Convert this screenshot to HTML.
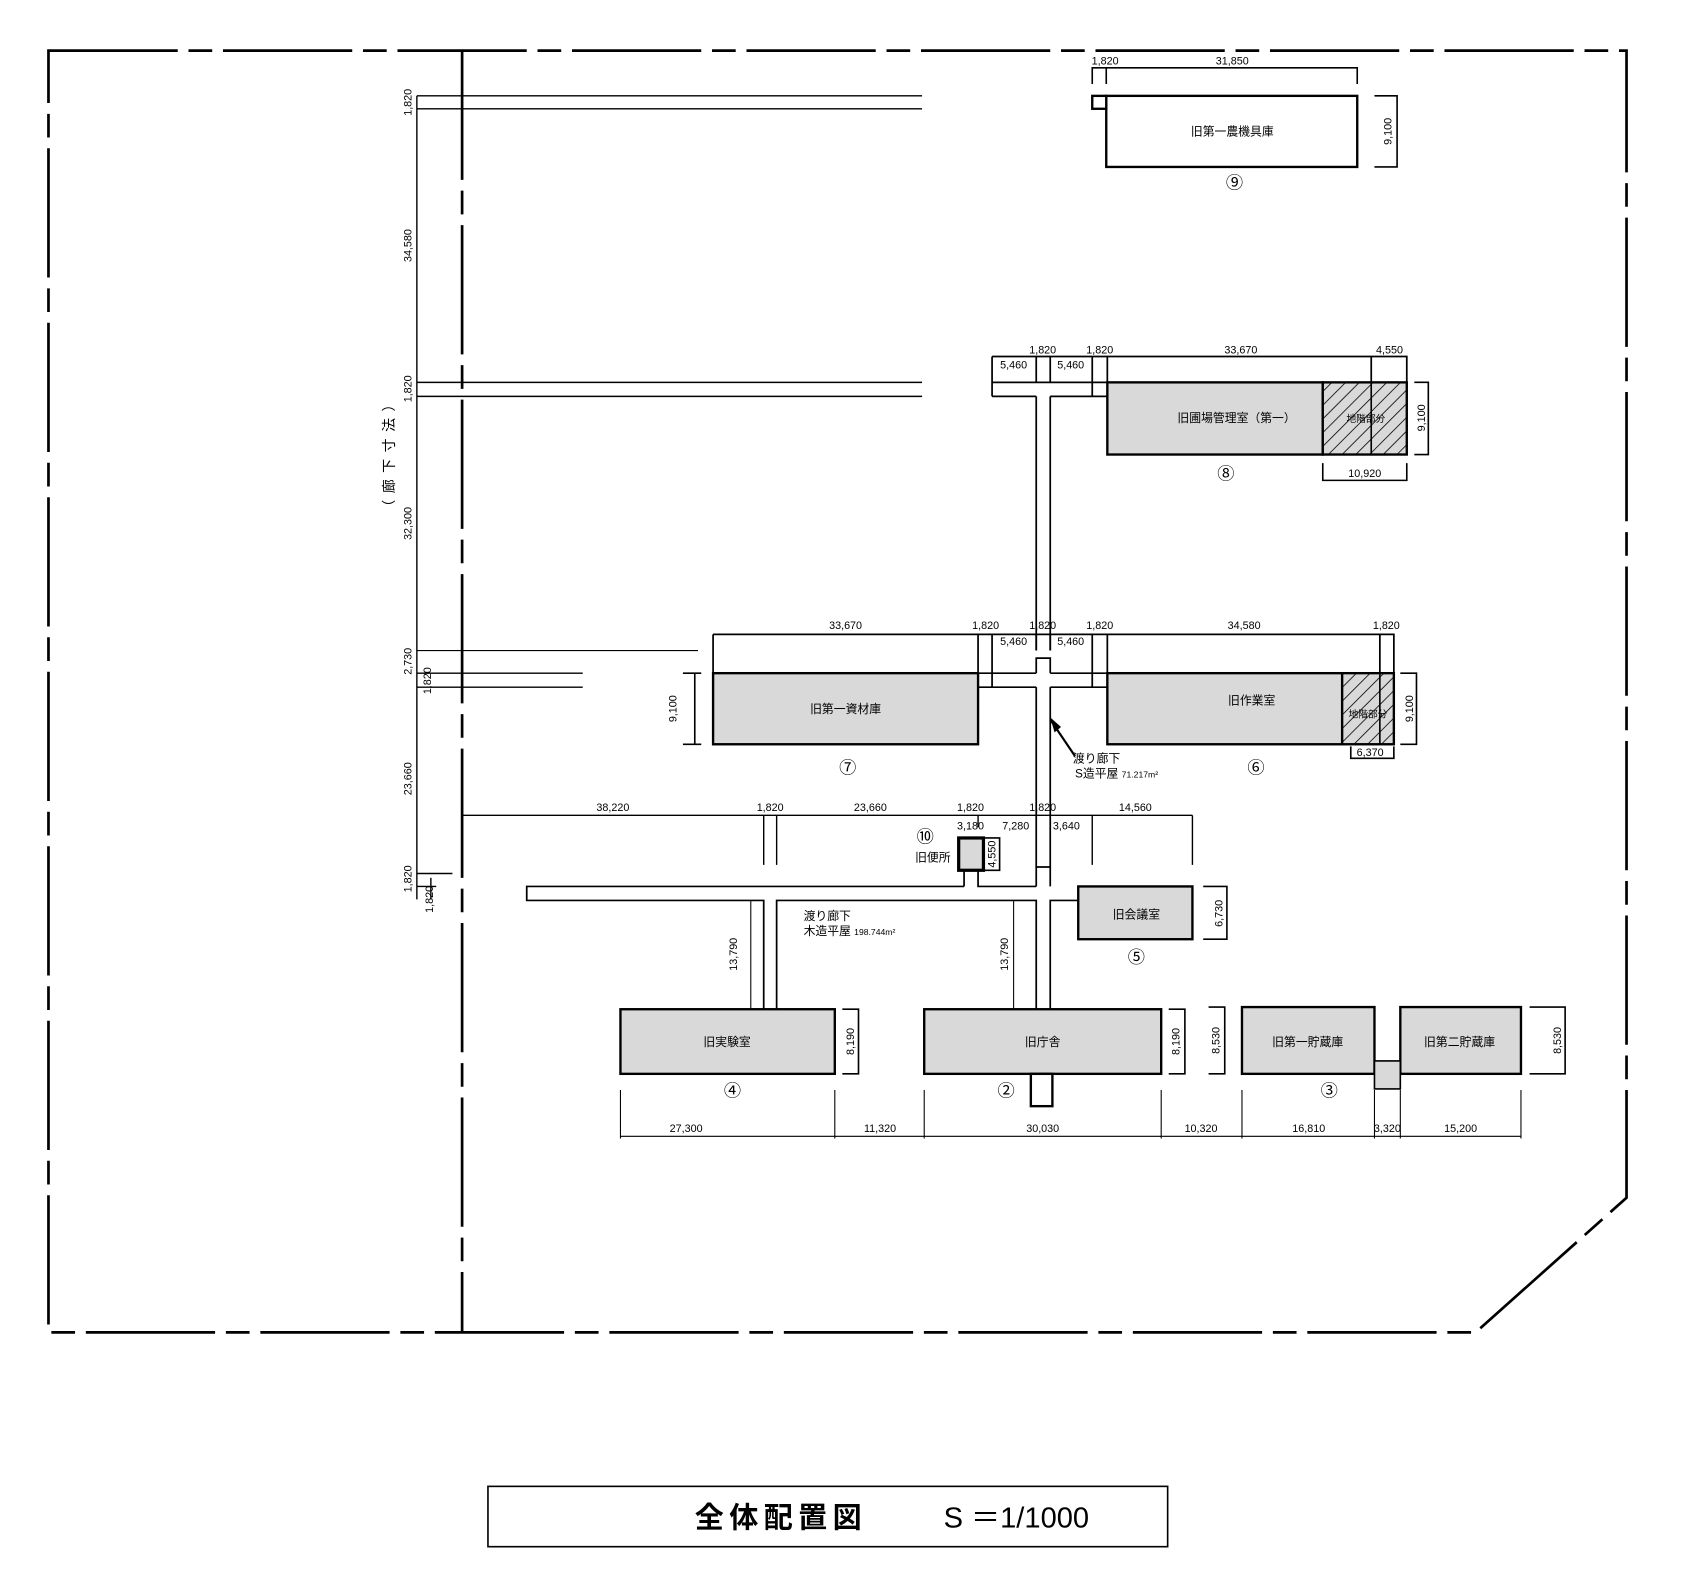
<!DOCTYPE html>
<html><head><meta charset="utf-8"><style>
html,body{margin:0;padding:0;background:#fff}
svg{display:block}
text{font-family:"Liberation Sans","Noto Sans CJK JP",sans-serif;fill:#000}
.d{font-size:10px}
.l{font-size:11px}
.c{font-size:16px}
</style></head><body>
<svg width="1689" height="1593" viewBox="0 0 1568 1479" preserveAspectRatio="none" xmlns="http://www.w3.org/2000/svg">
<defs>
<pattern id="h" width="9" height="9" patternUnits="userSpaceOnUse" patternTransform="rotate(45)">
<rect width="9" height="9" fill="#d9d9d9"/><line x1="0" y1="0" x2="0" y2="9" stroke="#000" stroke-width="1.5"/>
</pattern>
</defs>
<g fill="none" stroke="#000">
<path d="M45,47 H1510 V1112 L1370,1237 H45 Z" stroke-width="2.5" stroke-dasharray="120,10,22,10"/>
<line x1="429" y1="47" x2="429" y2="1237" stroke-width="2.5" stroke-dasharray="120,10,22,10"/>
<g stroke-width="1.3">
<line x1="387" y1="89" x2="856" y2="89"/><line x1="387" y1="101" x2="856" y2="101"/>
<line x1="387" y1="355" x2="856" y2="355"/><line x1="387" y1="368" x2="856" y2="368"/>
<line x1="387" y1="604" x2="648" y2="604" stroke-width="1"/>
<line x1="387" y1="625" x2="541" y2="625"/><line x1="387" y1="638" x2="541" y2="638"/>
<line x1="387" y1="89" x2="387" y2="835"/>
<line x1="387" y1="811" x2="420" y2="811"/><line x1="387" y1="823" x2="405" y2="823"/>
<line x1="400" y1="815" x2="400" y2="835"/>
<line x1="429" y1="757" x2="1107" y2="757"/><line x1="1107" y1="757" x2="1107" y2="803"/>
<line x1="709" y1="757" x2="709" y2="803"/><line x1="721" y1="757" x2="721" y2="803"/>
<line x1="908" y1="757" x2="908" y2="768"/><line x1="1014" y1="757" x2="1014" y2="803"/>
</g>
<g stroke-width="1.6">
<path d="M895,823 H489 V836 H709 V937 M721,937 V836 H962 V937 M975,937 V836 H1001 M975,823 V805 M962,823 V805 H975 M962,823 H908 V808 M895,808 V823"/>
<line x1="962" y1="805" x2="962" y2="638"/><line x1="975" y1="805" x2="975" y2="638"/>
<line x1="697" y1="836" x2="697" y2="937" stroke-width="1"/><line x1="941" y1="836" x2="941" y2="937" stroke-width="1"/>
</g>
<g stroke-width="1.6">
<path d="M962,625 V611 H975 V625 M962,604 V368 M975,604 V368"/>
<path d="M908,638 H962 M975,638 H1028 M908,625 H962 M975,625 H1028"/>
<path d="M921,368 H962 M975,368 H1028 M921,355 H1028 M921,355 V368 M921,331 H1306 V355 M921,331 V355 M962,331 V355 M975,331 V355 M1014,331 V368 M1028,331 V355 M1273,331 V355"/>
<path d="M662,589 H1294 V625 M662,589 V625 M908,589 V638 M921,589 V638 M962,589 V604 M975,589 V604 M1014,589 V638 M1028,589 V625 M1281,589 V625"/>
</g>
</g>
<g stroke="#000" stroke-width="2.2">
<rect x="1027" y="89" width="233" height="66" fill="#fff"/>
<rect x="1014" y="89" width="13" height="12" fill="#fff"/>
<rect x="1028" y="355" width="200" height="67" fill="#d9d9d9"/>
<rect x="1228" y="355" width="78" height="67" fill="url(#h)"/>
<rect x="1028" y="625" width="218" height="66" fill="#d9d9d9"/>
<rect x="1246" y="625" width="48" height="66" fill="url(#h)"/>
<rect x="662" y="625" width="246" height="66" fill="#d9d9d9"/>
<rect x="890" y="778" width="23" height="30" fill="#d9d9d9" stroke-width="3"/>
<rect x="1001" y="823" width="106" height="49" fill="#d9d9d9"/>
<rect x="576" y="937" width="199" height="60" fill="#d9d9d9"/>
<rect x="858" y="937" width="220" height="60" fill="#d9d9d9"/>
<rect x="957" y="997" width="20" height="30" fill="#fff"/>
<rect x="1153" y="935" width="123" height="62" fill="#d9d9d9"/>
<rect x="1300" y="935" width="112" height="62" fill="#d9d9d9"/>
<rect x="1276" y="985" width="24" height="26" fill="#d9d9d9" stroke-width="1.5"/>
</g>
<g fill="none" stroke="#000" stroke-width="1.5">
<line x1="1273" y1="355" x2="1273" y2="422"/><line x1="1281" y1="625" x2="1281" y2="691"/>
<path d="M1014,78 V63 H1260 V78 M1027,63 V78"/>
<path d="M1276,89 H1297 V155 H1276"/>
<path d="M1313,355 H1326 V422 H1313"/>
<path d="M1228,430 V446 H1306 V430"/>
<path d="M1300,625 H1315 V691 H1300"/>
<path d="M1254,693 V704 H1294 V693"/>
<path d="M634,625 H651 M634,691 H651 M645,625 V691" />
<path d="M910,778 H928 V808 H910"/>
<path d="M1117,823 H1139 V872 H1117"/>
<path d="M782,937 H797 V997 H782"/>
<path d="M1085,937 H1100 V997 H1085"/>
<path d="M1122,935 H1137 V997 H1122"/>
<path d="M1420,935 H1453 V997 H1420"/>
<path d="M576,1012 V1057 M775,1012 V1057 M858,1012 V1057 M1078,1012 V1057 M1153,1012 V1057 M1276,1012 V1057 M1300,1012 V1057 M1412,1012 V1057 M576,1055 H1412" stroke-width="1"/>
<path d="M975,668 L998,702" stroke-width="2"/>
</g>
<polygon points="975,666 979,680 985,675" fill="#000"/>
<rect x="453" y="1380" width="631" height="56" fill="none" stroke="#000" stroke-width="1.5"/>
<text x="645" y="1418" style="font-size:27px;letter-spacing:5px;font-weight:bold">全体配置図</text>
<text x="876" y="1418" style="font-size:27px">S ＝1/1000</text>
<g class="l" text-anchor="middle">
<text x="1144" y="126">旧第一農機具庫</text>
<text x="1148" y="392">旧圃場管理室（第一）</text>
<text x="1268" y="392" style="font-size:9px">地階部分</text>
<text x="1162" y="654">旧作業室</text>
<text x="1270" y="666" style="font-size:9px">地階部分</text>
<text x="785" y="662">旧第一資材庫</text>
<text x="866" y="800">旧便所</text>
<text x="1055" y="853">旧会議室</text>
<text x="675" y="971">旧実験室</text>
<text x="968" y="971">旧庁舎</text>
<text x="1214" y="971">旧第一貯蔵庫</text>
<text x="1355" y="971">旧第二貯蔵庫</text>
</g>
<g class="c" text-anchor="middle">
<text x="1146" y="175">⑨</text><text x="1138" y="445">⑧</text>
<text x="1166" y="718">⑥</text><text x="787" y="718">⑦</text>
<text x="859" y="782">⑩</text><text x="1055" y="894">⑤</text>
<text x="680" y="1018">④</text><text x="934" y="1018">②</text><text x="1234" y="1018">③</text>
</g>
<g class="l">
<text x="996" y="708">渡り廊下</text>
<text x="998" y="722">S造平屋 <tspan style="font-size:8px">71.217m²</tspan></text>
<text x="746" y="854">渡り廊下</text>
<text x="746" y="868">木造平屋 <tspan style="font-size:8px">198.744m²</tspan></text>
</g>
<g class="d" text-anchor="middle">
<text x="1026" y="60">1,820</text><text x="1144" y="60">31,850</text>
<text x="968" y="328">1,820</text><text x="1021" y="328">1,820</text><text x="1152" y="328">33,670</text><text x="1290" y="328">4,550</text>
<text x="941" y="342">5,460</text><text x="994" y="342">5,460</text>
<text x="1267" y="443">10,920</text>
<text x="785" y="584">33,670</text><text x="915" y="584">1,820</text><text x="968" y="584">1,820</text><text x="1021" y="584">1,820</text><text x="1155" y="584">34,580</text><text x="1287" y="584">1,820</text>
<text x="941" y="599">5,460</text><text x="994" y="599">5,460</text>
<text x="1272" y="702">6,370</text>
<text x="569" y="753">38,220</text><text x="715" y="753">1,820</text><text x="808" y="753">23,660</text><text x="901" y="753">1,820</text><text x="968" y="753">1,820</text><text x="1054" y="753">14,560</text>
<text x="901" y="770">3,180</text><text x="943" y="770">7,280</text><text x="990" y="770">3,640</text>
<text x="637" y="1051">27,300</text><text x="817" y="1051">11,320</text><text x="968" y="1051">30,030</text><text x="1115" y="1051">10,320</text><text x="1215" y="1051">16,810</text><text x="1288" y="1051">3,320</text><text x="1356" y="1051">15,200</text>
</g>
<g class="d" text-anchor="middle">
<text transform="translate(1292,122) rotate(-90)">9,100</text>
<text transform="translate(1323,388) rotate(-90)">9,100</text>
<text transform="translate(1312,658) rotate(-90)">9,100</text>
<text transform="translate(628,658) rotate(-90)">9,100</text>
<text transform="translate(924,793) rotate(-90)">4,550</text>
<text transform="translate(1135,848) rotate(-90)">6,730</text>
<text transform="translate(684,886) rotate(-90)">13,790</text>
<text transform="translate(936,886) rotate(-90)">13,790</text>
<text transform="translate(793,967) rotate(-90)">8,190</text>
<text transform="translate(1095,967) rotate(-90)">8,190</text>
<text transform="translate(1132,966) rotate(-90)">8,530</text>
<text transform="translate(1449,966) rotate(-90)">8,530</text>
<text transform="translate(382,95) rotate(-90)">1,820</text>
<text transform="translate(382,228) rotate(-90)">34,580</text>
<text transform="translate(382,361) rotate(-90)">1,820</text>
<text transform="translate(382,486) rotate(-90)">32,300</text>
<text transform="translate(382,614) rotate(-90)">2,730</text>
<text transform="translate(400,632) rotate(-90)">1,820</text>
<text transform="translate(382,723) rotate(-90)">23,660</text>
<text transform="translate(382,816) rotate(-90)">1,820</text>
<text transform="translate(402,835) rotate(-90)">1,820</text>
<text transform="translate(366,420) rotate(-90)" style="font-size:13px;letter-spacing:6px">（廊下寸法）</text>
</g>
</svg>
</body></html>
